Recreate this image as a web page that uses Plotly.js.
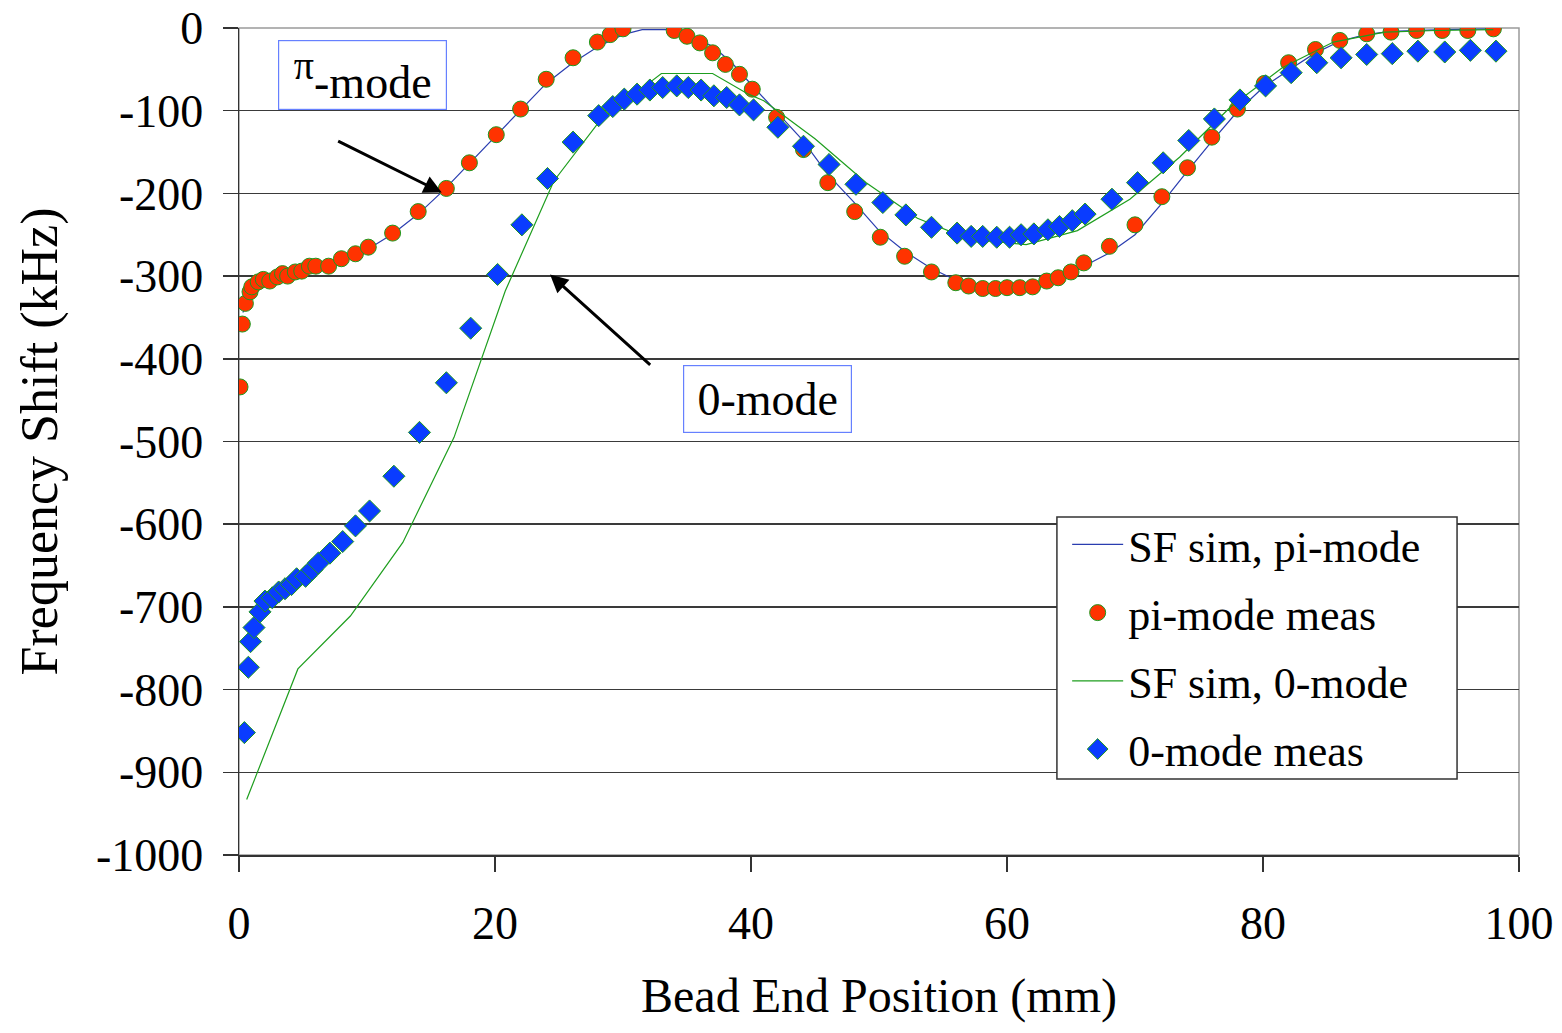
<!DOCTYPE html>
<html>
<head>
<meta charset="utf-8">
<script src="https://cdn.plot.ly/plotly-3.0.1.min.js"></script>
<style>
html,body{margin:0;padding:0;background:#fff;}
#chart{width:1562px;height:1033px;}
</style>
</head>
<body>
<div id="chart"></div>
<script>
// Simulated pi-mode (SF sim)
const simPiX = [0.3, 1, 2, 3, 4, 6, 8, 10, 12, 14, 16, 18, 20, 22, 24, 26, 28, 30, 31.5, 33.5, 35, 37, 38.5, 40, 42, 44, 46, 48, 50, 52, 54, 56, 58, 60, 62, 64, 66, 68, 70, 72, 74, 76, 78, 80, 82, 84, 86, 88, 90, 94, 98];
const simPiY = [-344, -323, -312, -305, -300, -292, -282, -268, -249, -225, -196, -164, -132, -99, -67, -43, -23, -8, -2, -2, -8, -22, -42, -68, -101, -135, -177, -210, -245, -270, -290, -305, -313, -316, -315, -305, -288, -272, -250, -214, -175, -137, -101, -72, -51, -31, -16, -8, -4, -2, -1];

// Measured pi-mode
const measPiX = [0.08, 0.26, 0.5, 0.86, 1.0, 1.5, 1.9, 2.4, 3.0, 3.4, 3.8, 4.4, 4.9, 5.5, 6.0, 7.0, 8.0, 9.1, 10.1, 12.0, 14.0, 16.2, 18.0, 20.1, 22.0, 24.0, 26.1, 28.0, 29.0, 30.0, 34.0, 35.0, 36.0, 37.0, 38.0, 39.1, 40.1, 42.0, 44.1, 46.0, 48.1, 50.1, 52.0, 54.1, 56.0, 57.0, 58.1, 59.1, 60.0, 61.0, 62.0, 63.1, 64.0, 65.0, 66.0, 68.0, 70.0, 72.1, 74.1, 76.0, 78.0, 80.1, 82.0, 84.1, 86.0, 88.1, 90.0, 92.0, 94.0, 96.0, 98.0];
const measPiY = [-434, -358, -333, -319, -313, -307, -304, -306, -301, -297, -300, -295, -294, -288, -288, -288, -279, -273, -265, -248, -222, -194, -163, -129, -98, -62, -36, -17, -8, -1, -3, -10, -18, -30, -44, -56, -74, -108, -147, -187, -222, -253, -276, -295, -308, -312, -315, -315, -314, -314, -313, -306, -302, -295, -284, -264, -238, -204, -169, -132, -98, -67, -42, -26, -15, -7, -5, -3, -3, -3, -1];

// Simulated 0-mode (SF sim)
const sim0X = [0.6, 4.6, 8.7, 12.8, 16.8, 20.8, 24.6, 28.2, 33.0, 37.0, 39.8, 41.0, 45.0, 49.0, 53.0, 57.0, 61.5, 65.5, 69.6, 73.5, 77.5, 81.5, 85.5, 89.5, 93.5, 98.0];
const sim0Y = [-933, -775, -711, -622, -495, -318, -185, -112, -55, -55, -80, -88, -134, -187, -230, -255, -262, -245, -207, -156, -95, -48, -17, -5, -3, -2];

// Measured 0-mode
const meas0X = [0.42, 0.73, 0.9, 1.17, 1.64, 2.03, 2.6, 3.1, 3.6, 4.1, 4.5, 5.2, 5.7, 6.2, 7.1, 8.1, 9.1, 10.2, 12.1, 14.1, 16.2, 18.1, 20.2, 22.1, 24.1, 26.1, 28.1, 29.2, 30.1, 31.1, 32.1, 33.1, 34.2, 35.1, 36.1, 37.1, 38.1, 39.1, 40.2, 42.1, 44.1, 46.1, 48.2, 50.3, 52.1, 54.1, 56.1, 57.2, 58.1, 59.2, 60.2, 61.1, 62.1, 63.2, 64.1, 65.1, 66.1, 68.2, 70.2, 72.2, 74.2, 76.2, 78.2, 80.2, 82.2, 84.2, 86.1, 88.1, 90.1, 92.1, 94.2, 96.2, 98.2];
const meas0Y = [-852, -773, -742, -725, -706, -693, -689, -682, -678, -673, -666, -663, -655, -647, -635, -621, -602, -584, -542, -489, -429, -363, -298, -238, -182, -138, -106, -95, -86, -80, -75, -72, -70, -72, -75, -82, -84, -93, -99, -120, -143, -165, -189, -211, -226, -241, -248, -252, -252, -253, -253, -250, -249, -244, -240, -233, -225, -207, -187, -163, -136, -110, -87, -70, -54, -42, -36, -32, -31, -28, -29, -27, -28];

const xTicks = [0, 20, 40, 60, 80, 100];
const yTicks = [0, -100, -200, -300, -400, -500, -600, -700, -800, -900, -1000];

const FONT = '"Liberation Serif", "Times New Roman", Times, serif';

const traces = [
  {x: simPiX, y: simPiY, mode: 'lines', name: 'SF sim, pi-mode', legendgroup: 'a',
   line: {color: '#2A3DB0', width: 1.2}},
  {x: measPiX, y: measPiY, mode: 'markers', name: 'pi-mode meas', legendgroup: 'b',
   marker: {symbol: 'circle', size: 16, color: '#FF3300', line: {color: '#1E9A1E', width: 1}}},
  {x: sim0X, y: sim0Y, mode: 'lines', name: 'SF sim, 0-mode', legendgroup: 'c',
   line: {color: '#1E9E1E', width: 1.2}},
  {x: meas0X, y: meas0Y, mode: 'markers', name: '0-mode meas', legendgroup: 'd',
   marker: {symbol: 'diamond', size: 17, color: '#0A3CFF', line: {color: '#1E9A1E', width: 1}}}
];

const layout = {
  width: 1562, height: 1033,
  margin: {l: 239, r: 43, t: 28, b: 178},
  paper_bgcolor: '#ffffff', plot_bgcolor: '#ffffff',
  font: {family: FONT, color: '#000', size: 46},
  showlegend: true,
  legend: {
    x: 0.647, y: 0.418, xanchor: 'left', yanchor: 'top',
    bgcolor: 'rgba(0,0,0,0)', borderwidth: 0,
    font: {family: FONT, size: 44, color: '#000'},
    traceorder: 'grouped', tracegroupgap: 8, itemwidth: 51
  },
  xaxis: {
    range: [0, 100], tickvals: xTicks, ticktext: xTicks.map(String),
    showgrid: false, zeroline: false,
    showline: true, linecolor: '#333', linewidth: 1.5,
    ticks: 'outside', ticklen: 15, tickwidth: 1.5, tickcolor: '#333',
    ticklabelstandoff: 12,
    tickfont: {family: FONT, size: 46, color: '#000'},
    title: {text: 'Bead End Position (mm)', font: {family: FONT, size: 48, color: '#000'}, standoff: 30}
  },
  yaxis: {
    range: [-1000, 0], tickvals: yTicks, ticktext: yTicks.map(String),
    showgrid: true, gridcolor: '#3a3a3a', gridwidth: 1.5,
    zeroline: false,
    showline: true, linecolor: '#333', linewidth: 1.5,
    ticks: 'outside', ticklen: 15, tickwidth: 1.5, tickcolor: '#333',
    ticklabelstandoff: 10,
    tickfont: {family: FONT, size: 46, color: '#000'},
    title: {text: 'Frequency Shift (kHz)', font: {family: FONT, size: 52, color: '#000'}, standoff: 22}
  },
  shapes: [
    {type: 'rect', xref: 'paper', yref: 'paper', x0: 0, x1: 1, y0: 0, y1: 1,
     line: {color: '#9a9a9a', width: 1.5}, layer: 'below'},
    {type: 'rect', xref: 'paper', yref: 'paper', x0: 0.639, x1: 0.9516, y0: 0.0919, y1: 0.4087,
     line: {color: '#333333', width: 1.5}, fillcolor: '#ffffff', layer: 'above'}
  ],
  annotations: [
    {x: 9.65, y: -57, xref: 'x', yref: 'y', text: '<sup><span style="font-size:40px">π</span></sup>-mode', showarrow: false,
     font: {family: FONT, size: 46, color: '#000'},
     bordercolor: '#6680FF', borderwidth: 1.2, bgcolor: '#ffffff', width: 165, height: 66, align: 'center'},
    {x: 41.3, y: -449, xref: 'x', yref: 'y', text: '0-mode', showarrow: false,
     font: {family: FONT, size: 46, color: '#000'},
     bordercolor: '#6680FF', borderwidth: 1.2, bgcolor: '#ffffff', width: 165, height: 64, align: 'center'},
    {x: 15.84, y: -199, ax: 7.63, ay: -136, xref: 'x', yref: 'y', axref: 'x', ayref: 'y',
     text: '', showarrow: true, arrowhead: 2, arrowsize: 1.2, arrowwidth: 3, arrowcolor: '#000'},
    {x: 24.3, y: -298, ax: 32.24, ay: -409, xref: 'x', yref: 'y', axref: 'x', ayref: 'y',
     text: '', showarrow: true, arrowhead: 2, arrowsize: 1.2, arrowwidth: 3, arrowcolor: '#000'}
  ]
};

Plotly.newPlot('chart', traces, layout, {displayModeBar: false, staticPlot: true});
</script>
</body>
</html>
